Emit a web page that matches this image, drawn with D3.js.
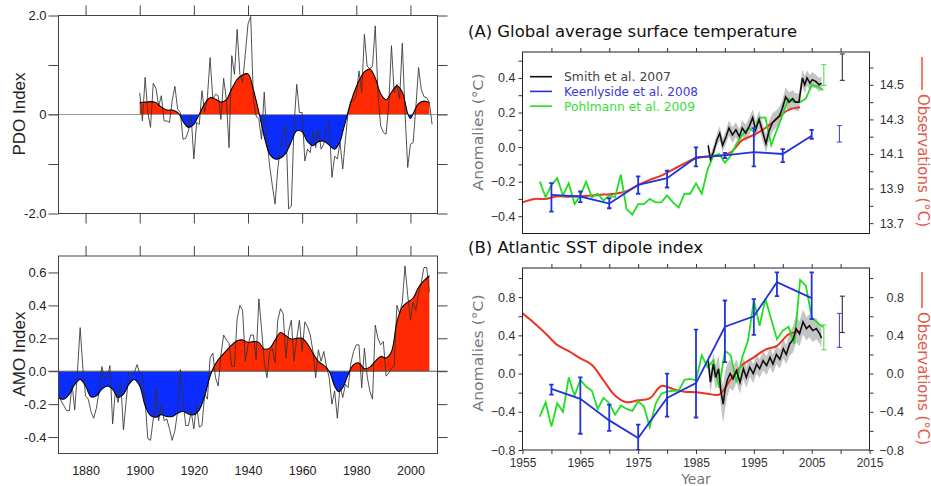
<!DOCTYPE html>
<html>
<head>
<meta charset="utf-8">
<script src="https://cdn.jsdelivr.net/npm/d3@7"></script>
<style>
body { margin: 0; background: #fff; }
svg { display: block; }
</style>
</head>
<body>
<svg id="fig" width="931" height="486"></svg>
<script>
// ---- PDO / AMO (left panels) ----
const pdoStart = 1900;
const pdoAnnual = [0.44,-0.13,0.75,0.04,-0.26,0.63,0.53,0.17,0.38,-0.13,
  -0.13,-0.16,0.28,0.57,0.11,0.04,-0.5,-0.48,-0.33,-0.03,
  -0.9,-0.16,-0.2,0.48,0.04,0.34,1.15,0.31,0.41,0.38,
  -0.1,0.73,0.31,-0.67,1.19,0.81,1.72,0.81,0.65,1.22,
  1.83,1.98,0.3,-0.03,-0.1,-0.5,0.45,-0.5,-1.04,-1.44,
  -1.81,-1.1,-0.63,-0.4,-0.2,-1.91,-1.85,-0.23,0.61,0.04,
  0.04,-0.94,-0.7,-0.77,-0.33,-0.67,-0.3,-0.7,-0.6,-0.26,
  -0.16,-1.27,-0.84,-0.9,-0.57,-1.1,-0.5,0.07,0.28,0.28,
  0.38,0.88,0.44,1.62,0.98,0.92,0.98,1.79,0.44,-0.23,
  -0.36,-0.4,0.21,1.39,0.44,0.61,0.31,1.44,0.04,-1.07,
  -0.6,-0.57,0.14,0.95,0.51,0.36,0.34,0.24,-0.2];
const pdoSmoothYears = [1900,1902,1904,1906,1908,1910,1912,1914,1915,1916,1918,1920,1921,1922,1924,1926,1928,1930,1932,1934,1936,1938,1940,1942,1944,1946,1948,1950,1952,1954,1956,1958,1960,1962,1964,1966,1968,1970,1972,1974,1975,1977,1979,1981,1983,1985,1987,1989,1991,1993,1995,1997,1999,2000,2001,2003,2005,2007];
const pdoSmooth = [0.24,0.25,0.26,0.24,0.15,0.09,0.09,0.04,-0.03,-0.14,-0.26,-0.2,-0.1,0.0,0.22,0.34,0.31,0.25,0.3,0.52,0.71,0.8,0.82,0.5,0.05,-0.45,-0.8,-0.9,-0.88,-0.78,-0.55,-0.33,-0.35,-0.55,-0.63,-0.55,-0.54,-0.62,-0.7,-0.55,-0.35,0.05,0.42,0.68,0.86,0.92,0.74,0.42,0.3,0.45,0.58,0.45,0.02,-0.08,0.02,0.22,0.27,0.24];

const amoStart = 1870;
const amoAnnual = [-0.13,-0.18,-0.21,-0.24,-0.24,-0.08,-0.235,0.0,0.265,0.02,
  -0.15,-0.17,-0.245,-0.286,-0.225,-0.12,0.028,-0.047,-0.04,0.034,
  -0.32,-0.12,-0.19,-0.07,-0.357,-0.18,-0.012,-0.018,-0.01,0.04,
  -0.01,-0.03,-0.18,-0.41,-0.42,-0.29,-0.1,-0.3,-0.2,-0.3,
  -0.29,-0.35,-0.42,-0.36,-0.245,0.01,-0.18,-0.33,-0.33,-0.245,
  -0.35,-0.2,-0.34,-0.33,-0.14,-0.17,0.08,0.11,-0.04,-0.09,
  0.1,0.22,0.19,0.17,0.03,0.03,0.32,0.4,0.37,0.06,
  0.16,0.22,0.22,0.07,0.44,0.26,0.06,-0.04,0.12,0.14,
  0.05,0.31,0.38,0.35,0.08,0.24,0.31,0.06,0.2,0.31,
  0.12,0.3,0.27,0.22,0.12,-0.04,0.13,0.06,0.12,0.03,
  -0.04,-0.2,-0.12,-0.286,-0.09,-0.16,-0.08,-0.1,0.05,0.12,
  0.16,0.16,-0.1,0.14,-0.03,-0.12,-0.17,0.28,0.2,0.16,
  0.18,-0.03,-0.01,0.02,0.03,0.4,0.35,0.42,0.64,0.46,
  0.31,0.42,0.37,0.47,0.535,0.63,0.63,0.48];
const amoSmoothYears = [1870,1872,1874,1876,1878,1880,1882,1884,1886,1888,1890,1892,1894,1896,1898,1900,1902,1904,1906,1908,1910,1912,1914,1916,1918,1920,1922,1924,1926,1928,1930,1932,1934,1936,1938,1940,1942,1944,1946,1948,1950,1952,1954,1956,1958,1960,1962,1964,1966,1968,1970,1972,1973.5,1975,1977,1979,1981,1983,1985,1987,1989,1991,1993,1995,1997,1999,2001,2003,2005,2007];
const amoSmooth = [-0.165,-0.17,-0.14,-0.08,-0.05,-0.09,-0.155,-0.15,-0.11,-0.09,-0.11,-0.16,-0.14,-0.08,-0.05,-0.09,-0.21,-0.27,-0.28,-0.265,-0.275,-0.275,-0.255,-0.245,-0.26,-0.265,-0.235,-0.15,-0.03,0.045,0.09,0.125,0.16,0.185,0.19,0.176,0.18,0.175,0.135,0.14,0.19,0.235,0.215,0.195,0.2,0.2,0.165,0.11,0.06,0.035,0.0,-0.09,-0.125,-0.1,-0.02,0.04,0.05,0.015,0.025,0.06,0.09,0.08,0.12,0.3,0.39,0.42,0.445,0.51,0.55,0.58];

const leftYearTicks = [1880,1900,1920,1940,1960,1980,2000];
const pdoTicks = [-2,-1,0,1,2];
const pdoTickLabels = {'2': '2.0', '0': '0', '-2': '-2.0'};
const amoTicks = [-0.4,-0.2,0,0.2,0.4,0.6];

// ---- (A) global temperature ----
const obsAYears = [1955,1957,1959,1961,1963,1965,1967,1969,1971,1973,1975,1977,1979,1981,1983,1985,1987,1989,1991,1993,1995,1997,1999,2001,2003];
const obsA = [13.82,13.84,13.84,13.855,13.853,13.855,13.86,13.865,13.87,13.885,13.92,13.95,13.975,14.01,14.045,14.075,14.085,14.09,14.11,14.18,14.21,14.25,14.305,14.355,14.37];

const keenAYears = [1960,1965,1970,1975,1980,1985,1990,1995,2000,2005];
const keenA = [-0.276,-0.286,-0.327,-0.218,-0.18,-0.06,-0.048,-0.029,-0.04,0.066];
const keenALo = [-0.373,-0.319,-0.354,-0.27,-0.234,-0.112,-0.064,-0.112,-0.087,0.048];
const keenAHi = [-0.209,-0.257,-0.296,-0.17,-0.137,-0.002,-0.033,0.11,-0.012,0.1];

const pohlYears = [1958,1959,1960,1961,1962,1963,1964,1965,1966,1967,1968,1969,1970,1971,1972,1973,1974,1975,1976,1977,1978,1979,1980,1981,1982,1983,1984,1985,1986,1987,1988,1989,1990,1991,1992,1993,1994,1995,1996,1997,1998,1999,2000,2001,2002,2003,2004,2005,2006,2007];
const pohlA = [-0.2,-0.29,-0.22,-0.18,-0.28,-0.21,-0.33,-0.28,-0.2,-0.29,-0.27,-0.31,-0.28,-0.29,-0.16,-0.36,-0.39,-0.33,-0.33,-0.3,-0.32,-0.32,-0.28,-0.32,-0.35,-0.27,-0.27,-0.21,-0.27,-0.13,-0.05,-0.04,-0.09,-0.05,0.02,0.07,0.11,0.09,0.17,0.17,0.01,0.1,0.19,0.28,0.26,0.26,0.28,0.36,0.35,0.33];

const smithAYears = [1987.1,1987.5,1988.0,1988.6,1989.1,1989.6,1990.2,1990.7,1991.3,1991.9,1992.5,1993.0,1993.6,1994.2,1994.8,1995.3,1995.9,1996.5,1997.1,1997.6,1998.2,1998.8,1999.4,1999.9,2000.5,2001.1,2001.7,2002.2,2002.8,2003.4,2003.8,2004.2,2004.7,2005.1,2005.7,2006.3,2006.7];
const smithA = [0.01,-0.07,-0.03,0.04,0.08,0.01,0.06,0.11,0.07,0.10,0.06,0.11,0.08,0.12,0.17,0.10,0.16,0.09,0.02,0.09,0.14,0.16,0.18,0.22,0.29,0.26,0.28,0.26,0.26,0.40,0.36,0.40,0.37,0.39,0.38,0.36,0.37];
const smithASpread = [0.03,0.03,0.035,0.035,0.04,0.04,0.04,0.045,0.045,0.045,0.045,0.045,0.05,0.05,0.05,0.05,0.05,0.05,0.055,0.055,0.055,0.05,0.05,0.05,0.055,0.055,0.05,0.05,0.05,0.05,0.05,0.045,0.045,0.045,0.04,0.04,0.04];

// forecasts shown right of the data (year, low, high)
const fcA = [
  {name: 'smith', year: 2010.3, lo: 0.386, hi: 0.539},
  {name: 'keen', year: 2009.8, lo: 0.029, hi: 0.124},
  {name: 'pohl', year: 2007.1, lo: 0.357, hi: 0.477}
];

// ---- (B) Atlantic dipole ----
const obsBYears = [1955,1957,1959,1961,1963,1965,1967,1969,1971,1973,1975,1977,1979,1981,1983,1985,1987,1989,1991,1993,1995,1997,1999,2001,2003];
const obsB = [0.63,0.53,0.42,0.3,0.235,0.16,0.09,-0.07,-0.23,-0.3,-0.28,-0.26,-0.13,-0.16,-0.19,-0.195,-0.21,-0.22,-0.06,0.09,0.17,0.25,0.29,0.41,0.44];

const keenBYears = [1960,1965,1970,1975,1980,1985,1990,1995,1999,2005];
const keenB = [-0.16,-0.265,-0.49,-0.675,-0.255,-0.1,0.49,0.6,0.956,0.79];
const keenBLo = [-0.22,-0.63,-0.6,-0.8,-0.45,-0.46,0.12,0.405,0.81,0.57];
const keenBHi = [-0.115,-0.04,-0.325,-0.535,0.0,0.46,0.765,0.78,1.06,1.06];

const pohlB = [-0.45,-0.3,-0.555,-0.31,-0.4,-0.04,-0.23,-0.066,-0.136,-0.18,-0.37,-0.255,-0.31,-0.43,-0.335,-0.37,-0.39,-0.29,-0.345,-0.56,-0.32,-0.21,-0.19,-0.18,-0.18,-0.066,-0.056,-0.07,0.19,0.066,0.136,-0.15,0.24,0.19,-0.09,0.17,0.345,0.765,0.5,0.78,0.57,0.36,0.45,0.49,0.31,0.98,0.92,0.59,0.53,0.485];

const smithBYears = [1987.1,1987.5,1988.0,1988.4,1988.9,1989.3,1989.7,1990.0,1990.4,1990.9,1991.4,1992.0,1992.6,1993.2,1993.7,1994.3,1994.9,1995.5,1996.0,1996.6,1997.2,1997.8,1998.3,1998.9,1999.5,2000.1,2000.6,2001.2,2001.8,2002.3,2002.9,2003.5,2004.1,2004.6,2005.2,2005.8,2006.4,2006.7];
const smithB = [0.136,-0.09,0.10,-0.04,0.05,-0.18,-0.32,-0.18,-0.07,0.0,-0.055,0.03,-0.09,0.05,-0.04,0.066,0.0,0.10,0.05,0.136,0.084,0.17,0.10,0.2,0.15,0.26,0.2,0.31,0.36,0.47,0.415,0.54,0.47,0.50,0.45,0.47,0.415,0.37];
const smithBSpread = [0.1,0.12,0.12,0.13,0.14,0.16,0.2,0.2,0.17,0.15,0.13,0.12,0.12,0.11,0.11,0.1,0.1,0.1,0.1,0.1,0.1,0.1,0.1,0.1,0.1,0.1,0.1,0.12,0.14,0.14,0.13,0.13,0.12,0.12,0.12,0.11,0.1,0.1];

const fcB = [
  {name: 'smith', year: 2010.3, lo: 0.43, hi: 0.81},
  {name: 'keen', year: 2009.8, lo: 0.275, hi: 0.63},
  {name: 'pohl', year: 2007.1, lo: 0.25, hi: 0.51}
];

const rightTopTicks = [1960,1965,1970,1975,1980,1985,1990,1995,2000,2005,2010];
const rightBottomTicks = [1955,1960,1965,1970,1975,1980,1985,1990,1995,2000,2005,2010,2015];
const rightBottomLabels = [1955,1965,1975,1985,1995,2005,2015];
const aLeftTicks = [-0.4,-0.3,-0.2,-0.1,0,0.1,0.2,0.3,0.4,0.5];
const aLeftLabels = [-0.4,-0.2,0,0.2,0.4];
const aRightTicks = [13.7,13.8,13.9,14.0,14.1,14.2,14.3,14.4,14.5,14.6];
const aRightLabels = [13.7,13.9,14.1,14.3,14.5];
const bTicks = [-0.8,-0.6,-0.4,-0.2,0,0.2,0.4,0.6,0.8,1.0];
const bLabels = [-0.8,-0.4,0,0.4,0.8];

const legendNames = ['Smith et al. 2007', 'Keenlyside et al. 2008', 'Pohlmann et al. 2009'];

const colors = {
  smith: '#111', keen: '#2233dd', pohl: '#22dd22', obs: '#ea3420',
  band: '#c4c4c4', warm: '#ff2a00', cold: '#0a2cff'
};
const fcColors = {smith: '#333', keen: '#4a4ae0', pohl: '#55dd55'};
const legendText = ['#444', '#3b3bd8', '#38dd38'];

const svg = d3.select('#fig');
const leftFont = "'Liberation Sans', Arial, sans-serif";
const rightFont = "'DejaVu Sans', sans-serif";

// ================= left panels =================
const xLeft = d3.scaleLinear().domain([1870, 2010]).range([58.5, 437.5]);
const yPdo = d3.scaleLinear().domain([-2, 2]).range([213.5, 15.5]);
const yAmo = d3.scaleLinear().domain([-0.5, 0.7]).range([453.5, 256]);

function styleAxis(g, color, font, size) {
  g.select('.domain').remove();
  g.selectAll('.tick line').attr('stroke', color).attr('stroke-width', 1);
  g.selectAll('.tick text').attr('fill', '#222').style('font-family', font).style('font-size', size + 'px');
}

function indexPanel(id, start, annual, smYears, smooth, y, yTicks, yFmt, zeroColor, withYears) {
  const g = svg.append('g');
  const [x0, x1] = xLeft.range();
  const [yb, yt] = y.range();
  const defs = svg.append('defs');
  defs.append('clipPath').attr('id', id + 'up')
    .append('rect').attr('x', x0).attr('y', yt).attr('width', x1 - x0).attr('height', y(0) - yt);
  defs.append('clipPath').attr('id', id + 'dn')
    .append('rect').attr('x', x0).attr('y', y(0)).attr('width', x1 - x0).attr('height', yb - y(0));

  const sm = smYears.map((yr, i) => [yr, smooth[i]]);
  const area = d3.area().x(d => xLeft(d[0])).y0(y(0)).y1(d => y(d[1])).curve(d3.curveCatmullRom.alpha(0.5));
  g.append('path').datum(sm).attr('d', area).attr('fill', colors.warm).attr('clip-path', `url(#${id}up)`);
  g.append('path').datum(sm).attr('d', area).attr('fill', colors.cold).attr('clip-path', `url(#${id}dn)`);

  g.append('line').attr('x1', x0 - 10).attr('x2', x1 + 10).attr('y1', y(0)).attr('y2', y(0))
    .attr('stroke', zeroColor).attr('stroke-width', 1);

  const line = d3.line().x(d => xLeft(d[0])).y(d => y(d[1]));
  g.append('path').datum(annual.map((v, i) => [start + i, v])).attr('d', line)
    .attr('fill', 'none').attr('stroke', '#333').attr('stroke-width', 0.85);
  g.append('path').datum(sm).attr('d', line.curve(d3.curveCatmullRom.alpha(0.5)))
    .attr('fill', 'none').attr('stroke', '#000').attr('stroke-width', 1.05);

  g.append('rect').attr('x', x0).attr('y', yt).attr('width', x1 - x0).attr('height', yb - yt)
    .attr('fill', 'none').attr('stroke', '#444').attr('stroke-width', 1);

  const top = g.append('g').attr('transform', `translate(0,${yt})`)
    .call(d3.axisTop(xLeft).tickValues(leftYearTicks).tickSize(10).tickFormat(''));
  styleAxis(top, '#444', leftFont, 12);
  if (withYears) {
    const bot = g.append('g').attr('transform', `translate(0,${yb})`)
      .call(d3.axisBottom(xLeft).tickValues(leftYearTicks).tickSize(0).tickPadding(13).tickFormat(d3.format('d')));
    styleAxis(bot, '#444', leftFont, 12.5);
  } else {
    const bot = g.append('g').attr('transform', `translate(0,${yb})`)
      .call(d3.axisBottom(xLeft).tickValues(leftYearTicks).tickSize(10).tickFormat(''));
    styleAxis(bot, '#444', leftFont, 12);
  }
  const left = g.append('g').attr('transform', `translate(${x0},0)`)
    .call(d3.axisLeft(y).tickValues(yTicks).tickSize(10).tickPadding(2).tickFormat(yFmt));
  styleAxis(left, '#444', leftFont, 13);
  const right = g.append('g').attr('transform', `translate(${x1},0)`)
    .call(d3.axisRight(y).tickValues(yTicks).tickSize(10).tickFormat(''));
  styleAxis(right, '#444', leftFont, 12);
}

indexPanel('pdo', pdoStart, pdoAnnual, pdoSmoothYears, pdoSmooth, yPdo, pdoTicks,
  v => pdoTickLabels[String(v)] || '', '#999', false);
indexPanel('amo', amoStart, amoAnnual, amoSmoothYears, amoSmooth, yAmo, amoTicks,
  v => v.toFixed(1), '#555', true);

svg.append('text').attr('transform', 'translate(24.5,114) rotate(-90)')
  .attr('text-anchor', 'middle').style('font-family', leftFont).style('font-size', '17px')
  .attr('fill', '#222').text('PDO Index');
svg.append('text').attr('transform', 'translate(24.5,354) rotate(-90)')
  .attr('text-anchor', 'middle').style('font-family', leftFont).style('font-size', '17px')
  .attr('fill', '#222').text('AMO Index');

// ================= right panels =================
const xR = d3.scaleLinear().domain([1955, 2015]).range([522.5, 869.5]);
const yA = d3.scaleLinear().domain([-0.5, 0.55]).range([233.5, 52]);
const yAr = d3.scaleLinear().domain([13.64, 14.69]).range([233.5, 52]);
const yB = d3.scaleLinear().domain([-0.8, 1.105]).range([450, 268]);

const minus = v => (v < 0 ? '\u2212' : '') + Math.abs(v).toFixed(1);

function frame(g, yScale, yRightScale, opts) {
  const [x0, x1] = xR.range();
  const [yb, yt] = yScale.range();
  g.append('rect').attr('x', x0).attr('y', yt).attr('width', x1 - x0).attr('height', yb - yt)
    .attr('fill', 'none').attr('stroke', '#222').attr('stroke-width', 1);

  const top = g.append('g').attr('transform', `translate(0,${yt})`)
    .call(d3.axisTop(xR).tickValues(rightTopTicks).tickSize(4).tickFormat(''));
  styleAxis(top, '#333', leftFont, 12);

  const left = g.append('g').attr('transform', `translate(${x0},0)`)
    .call(d3.axisLeft(yScale).tickValues(opts.leftTicks).tickSize(4).tickPadding(3)
      .tickFormat(v => opts.leftLabels.some(l => Math.abs(l - v) < 1e-6) ? minus(v) : ''));
  styleAxis(left, '#333', leftFont, 12.5);
  left.selectAll('.tick text').attr('fill', '#333');

  const right = g.append('g').attr('transform', `translate(${x1},0)`)
    .call(d3.axisRight(yRightScale).tickValues(opts.rightTicks).tickSize(4)
      .tickFormat(v => opts.rightLabels.some(l => Math.abs(l - v) < 1e-6) ? minus(v) : ''));
  styleAxis(right, '#333', leftFont, 12.5);
  right.selectAll('.tick text').attr('text-anchor', 'end').attr('x', 34.5).attr('fill', '#333');

  if (opts.bottom) {
    const bot = g.append('g').attr('transform', `translate(0,${yb})`)
      .call(d3.axisBottom(xR).tickValues(rightBottomTicks).tickSize(4).tickPadding(4)
        .tickFormat(v => rightBottomLabels.includes(v) ? String(v) : ''));
    styleAxis(bot, '#333', leftFont, 12);
    bot.selectAll('.tick text').attr('fill', '#333');
  }
}

function errorBars(g, years, lo, hi, y, color, width, cap) {
  years.forEach((yr, i) => {
    const x = xR(yr);
    g.append('line').attr('x1', x).attr('x2', x).attr('y1', y(lo[i])).attr('y2', y(hi[i]))
      .attr('stroke', color).attr('stroke-width', width);
    [lo[i], hi[i]].forEach(v => {
      g.append('line').attr('x1', x - cap).attr('x2', x + cap).attr('y1', y(v)).attr('y2', y(v))
        .attr('stroke', color).attr('stroke-width', width);
    });
  });
}

function dataPanel(yScale, obsYears, obs, obsScale, keenYears, keen, keenLo, keenHi, pohl, smYears, smith, spread, fc) {
  const g = svg.append('g');
  const [yb, yt] = yScale.range();
  svg.append('defs').append('clipPath').attr('id', 'clip' + yt)
    .append('rect').attr('x', xR(1955)).attr('y', yt).attr('width', xR(2015) - xR(1955)).attr('height', yb - yt);
  const inner = g.append('g').attr('clip-path', `url(#clip${yt})`);

  const sm = smYears.map((yr, i) => ({yr, v: smith[i], s: spread[i] || 0.05}));
  inner.append('path').datum(sm)
    .attr('d', d3.area().x(d => xR(d.yr)).y0(d => yScale(d.v - d.s)).y1(d => yScale(d.v + d.s)))
    .attr('fill', colors.band);

  const lineOf = (sc) => d3.line().x(d => xR(d[0])).y(d => sc(d[1]));
  inner.append('path').datum(obsYears.map((yr, i) => [yr, obs[i]]))
    .attr('d', lineOf(obsScale).curve(d3.curveCatmullRom.alpha(0.5)))
    .attr('fill', 'none').attr('stroke', colors.obs).attr('stroke-width', 2);
  inner.append('path').datum(pohlYears.map((yr, i) => [yr, pohl[i]]))
    .attr('d', lineOf(yScale)).attr('fill', 'none').attr('stroke', colors.pohl).attr('stroke-width', 1.8);
  inner.append('path').datum(sm.map(d => [d.yr, d.v]))
    .attr('d', lineOf(yScale)).attr('fill', 'none').attr('stroke', colors.smith).attr('stroke-width', 1.6);
  inner.append('path').datum(keenYears.map((yr, i) => [yr, keen[i]]))
    .attr('d', lineOf(yScale)).attr('fill', 'none').attr('stroke', colors.keen).attr('stroke-width', 1.8);
  errorBars(inner, keenYears, keenLo, keenHi, yScale, colors.keen, 1.8, 2.2);

  fc.forEach(f => errorBars(g, [f.year], [f.lo], [f.hi], yScale, fcColors[f.name], 1.1, 2.5));
  return g;
}

// ---- (A)
const gA = dataPanel(yA, obsAYears, obsA, yAr, keenAYears, keenA, keenALo, keenAHi, pohlA,
  smithAYears, smithA, smithASpread, fcA);
frame(gA, yA, yAr, {leftTicks: aLeftTicks, leftLabels: aLeftLabels, rightTicks: aRightTicks, rightLabels: aRightLabels});

const legendColors = [colors.smith, colors.keen, colors.pohl];
const legendLen = [107, 134, 131];
legendNames.forEach((name, i) => {
  const yy = 76.7 + i * 14.7;
  gA.append('line').attr('x1', 530).attr('x2', 552).attr('y1', yy).attr('y2', yy)
    .attr('stroke', legendColors[i]).attr('stroke-width', 1.6);
  gA.append('text').attr('x', 564).attr('y', yy + 4.5).attr('fill', legendText[i])
    .attr('textLength', legendLen[i]).attr('lengthAdjust', 'spacingAndGlyphs')
    .style('font-family', rightFont).style('font-size', '12.5px').text(name);
});

// ---- (B)
const gB = dataPanel(yB, obsBYears, obsB, yB, keenBYears, keenB, keenBLo, keenBHi, pohlB,
  smithBYears, smithB, smithBSpread, fcB);
frame(gB, yB, yB, {leftTicks: bTicks, leftLabels: bLabels, rightTicks: bTicks, rightLabels: bLabels, bottom: true});

// titles and axis names
const titles = [
  {t: '(A) Global average surface temperature', y: 37, len: 329},
  {t: '(B) Atlantic SST dipole index', y: 253, len: 235}
];
titles.forEach(d => {
  svg.append('text').attr('x', 468).attr('y', d.y).attr('fill', '#111')
    .attr('textLength', d.len).attr('lengthAdjust', 'spacingAndGlyphs')
    .style('font-family', rightFont).style('font-size', '15.5px').text(d.t);
});
[132, 353].forEach(cy => {
  svg.append('text').attr('transform', `translate(483,${cy}) rotate(-90)`)
    .attr('text-anchor', 'middle').attr('fill', '#777')
    .attr('textLength', 117).attr('lengthAdjust', 'spacingAndGlyphs')
    .style('font-family', rightFont).style('font-size', '14.5px').text('Anomalies (\u00b0C)');
});
[{l0: 57, l1: 90, t: 94}, {l0: 272, l1: 308, t: 312}].forEach(d => {
  svg.append('line').attr('x1', 922).attr('x2', 922).attr('y1', d.l0).attr('y2', d.l1)
    .attr('stroke', colors.obs).attr('stroke-width', 1.3);
  svg.append('text').attr('transform', `translate(918,${d.t}) rotate(90)`)
    .attr('fill', '#e25a4a').attr('textLength', 133).attr('lengthAdjust', 'spacingAndGlyphs')
    .style('font-family', rightFont).style('font-size', '15px').text('Observations (\u00b0C)');
});
svg.append('text').attr('x', xR(1985)).attr('y', 484).attr('text-anchor', 'middle')
  .attr('fill', '#777').style('font-family', rightFont).style('font-size', '14px').text('Year');
</script>
</body>
</html>
